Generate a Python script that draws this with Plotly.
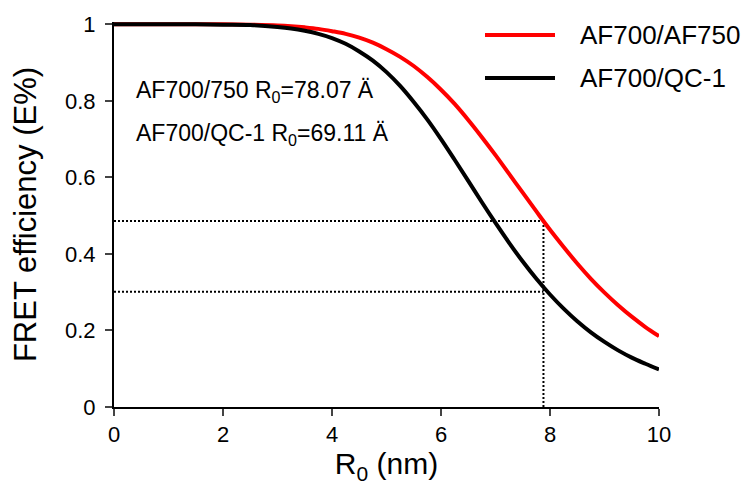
import plotly.graph_objects as go

# Distance axis (nm)
distance_nm = [0, 0.5, 1, 1.5, 2, 2.5, 3, 3.25, 3.5, 3.75, 4, 4.25, 4.5, 4.75, 5,
               5.25, 5.5, 5.75, 6, 6.25, 6.5, 6.75, 7, 7.25, 7.5, 7.75, 8,
               8.25, 8.5, 8.75, 9, 9.25, 9.5, 9.75, 10]

# FRET efficiency, AF700/AF750 pair
eff_af750 = [1.000, 1.000, 1.000, 1.000, 1.000, 0.999, 0.997, 0.995, 0.992, 0.988, 0.982,
             0.975, 0.965, 0.952, 0.935, 0.915, 0.891, 0.862, 0.829, 0.792, 0.750,
             0.705, 0.658, 0.609, 0.560, 0.511, 0.463, 0.418, 0.375, 0.335, 0.299,
             0.266, 0.236, 0.209, 0.185]

# FRET efficiency, AF700/QC-1 pair
eff_qc1 = [1.000, 1.000, 1.000, 1.000, 0.999, 0.998, 0.993, 0.989, 0.983, 0.975, 0.964,
           0.949, 0.929, 0.905, 0.875, 0.839, 0.797, 0.751, 0.700, 0.646, 0.591,
           0.535, 0.481, 0.429, 0.380, 0.335, 0.294, 0.257, 0.224, 0.195, 0.170,
           0.148, 0.129, 0.113, 0.098]

# Reference (dotted) guide lines
guide_distance = 7.88
guide_levels = [0.486, 0.301]

series_names = ["AF700/AF750", "AF700/QC-1"]
series_colors = ["#ff0000", "#000000"]
annot_texts = ["AF700/750 R<sub>0</sub>=78.07 Ä", "AF700/QC-1 R<sub>0</sub>=69.11 Ä"]

x_ticks = [0, 2, 4, 6, 8, 10]
y_ticks = [0, 0.2, 0.4, 0.6, 0.8, 1]

FONT = "Liberation Sans, Arial, sans-serif"
OFF = 8  # default page body margin

fig = go.Figure()

# dotted guides
for lvl in guide_levels:
    fig.add_trace(go.Scatter(x=[0, guide_distance], y=[lvl, lvl], mode="lines",
                             line=dict(color="black", width=2, dash="2px,2px"),
                             showlegend=False, hoverinfo="skip"))
fig.add_trace(go.Scatter(x=[guide_distance, guide_distance], y=[0, max(guide_levels)],
                         mode="lines", line=dict(color="black", width=2, dash="2px,2px"),
                         showlegend=False, hoverinfo="skip"))

for name, ys, col in zip(series_names, [eff_af750, eff_qc1], series_colors):
    fig.add_trace(go.Scatter(x=distance_nm, y=ys, mode="lines", name=name,
                             line=dict(color=col, width=4, shape="spline"),
                             showlegend=False))

# layout in screen pixels (reference), converted to figure coordinates
W, H = 750 - OFF, 491 - OFF
L = 114 - OFF
R = W - (659 - OFF)
T = 22 - OFF
B = H - (407 - OFF)
pw, ph = W - L - R, H - T - B

def px_x(px):
    return (px - OFF - L) / pw

def px_y(py):
    return (H - B - (py - OFF)) / ph

legend_y = [35, 78]
for i, (name, col) in enumerate(zip(series_names, series_colors)):
    fig.add_shape(type="line", xref="paper", yref="paper",
                  x0=px_x(485), x1=px_x(555), y0=px_y(legend_y[i]), y1=px_y(legend_y[i]),
                  line=dict(color=col, width=4))
    fig.add_annotation(xref="paper", yref="paper", x=px_x(578), y=px_y(legend_y[i]),
                       text=name, showarrow=False, xanchor="left", yanchor="middle",
                       font=dict(family=FONT, size=26, color="black"))

annot_y = [92, 134]
for i, t in enumerate(annot_texts):
    fig.add_annotation(xref="paper", yref="paper", x=px_x(134), y=px_y(annot_y[i]),
                       text=t, showarrow=False, xanchor="left", yanchor="middle",
                       font=dict(family=FONT, size=23, color="black"))

fig.update_layout(
    width=W, height=H,
    margin=dict(l=L, r=R, t=T, b=B, autoexpand=False),
    plot_bgcolor="white", paper_bgcolor="white",
    font=dict(family=FONT, color="black"),
    xaxis=dict(range=[0, 10], tickvals=x_ticks, ticks="outside", ticklen=7, tickwidth=2,
               showline=True, linecolor="black", linewidth=2, showgrid=False, zeroline=False,
               tickfont=dict(size=22), automargin=False,
               title=dict(text="R<sub>0</sub> (nm)", font=dict(size=30), standoff=6)),
    yaxis=dict(range=[0, 1.006], tickvals=y_ticks, ticks="outside", ticklen=7, tickwidth=2,
               showline=True, linecolor="black", linewidth=2, showgrid=False, zeroline=False,
               tickfont=dict(size=22), ticklabelstandoff=5, automargin=False,
               title=dict(text="FRET efficiency (E%)", font=dict(size=31), standoff=22)),
)

fig.write_html("out.html")
